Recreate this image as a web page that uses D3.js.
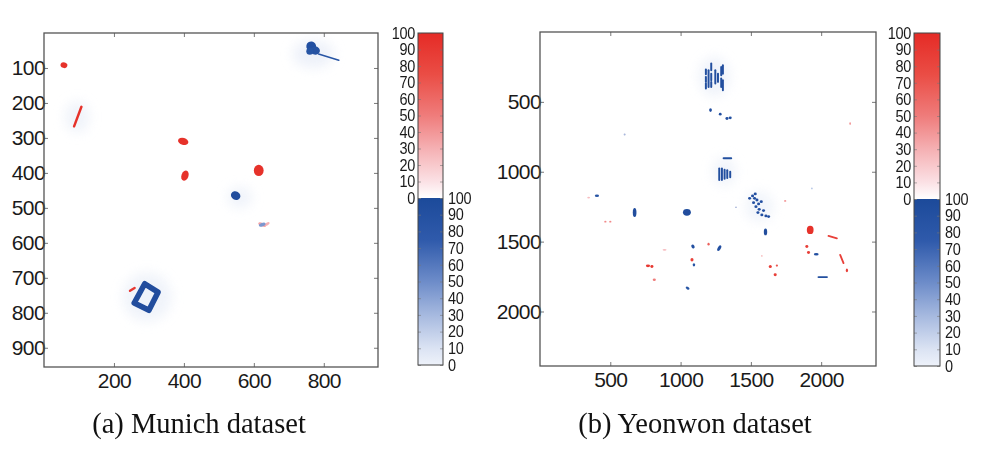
<!DOCTYPE html>
<html><head><meta charset="utf-8">
<script src="https://cdn.jsdelivr.net/npm/d3@7/dist/d3.min.js"></script>
<style>body{margin:0;background:#fff}svg{display:block}</style>
</head><body>
<svg id="chart" width="983" height="449"></svg>
<script>
// ---------------- DATA ----------------
const munichXTicks = [200, 400, 600, 800];
const munichYTicks = [100, 200, 300, 400, 500, 600, 700, 800, 900];
const yeonwonXTicks = [500, 1000, 1500, 2000];
const yeonwonYTicks = [500, 1000, 1500, 2000];
const colorbarTicks = [0, 10, 20, 30, 40, 50, 60, 70, 80, 90, 100];
const captions = ["(a) Munich dataset", "(b) Yeonwon dataset"];

// spots: [x, y, rx, ry, value, angle]  (data units)
const munichIncreaseSpots = [
  [57, 92, 10, 8, 95, 20], [398, 310, 15, 10, 95, 15], [403, 408, 10, 15, 95, 20],
  [614, 393, 14, 16, 95, 0], [624, 548, 12, 5, 35, 20], [638, 546, 8, 4, 30, -30]
];
// strokes: [x1, y1, x2, y2, thickness, value]
const munichIncreaseStrokes = [
  [107, 211, 86, 267, 7, 95], [246, 737, 259, 729, 7, 90]
];
const munichDecreaseHalos = [
  [770, 60, 60, 40, 6, 0], [560, 470, 35, 30, 5, 0], [295, 755, 70, 70, 4, 0], [95, 240, 35, 45, 4, 0]
];
const munichDecreaseSpots = [
  [548, 465, 14, 12, 95, 30], [764, 38, 14, 14, 90, 10], [775, 50, 14, 12, 88, 10], [760, 52, 10, 10, 85, 0],
  [624, 548, 10, 5, 45, -20]
];
const munichDecreaseStrokes = [
  [785, 60, 843, 78, 4, 85]
];
const munichDecreaseOutline = [[258, 772], [288, 717], [326, 741], [300, 793]];
const munichOutlineThickness = 16;
const munichOutlineValue = 95;

const yeonwonDecreaseHalos = [
  [1240, 320, 110, 140, 5, 0], [1310, 1000, 80, 100, 4, 0], [1560, 1250, 100, 110, 3, 0]
];
// vertical dashes / strokes: [x1, y1, x2, y2]
const yeonwonDecreaseStrokes = [
  [1180, 269, 1180, 302], [1180, 321, 1180, 357], [1180, 369, 1180, 405],
  [1199, 274, 1199, 393],
  [1218, 226, 1218, 274], [1218, 298, 1218, 345], [1218, 357, 1218, 393],
  [1247, 274, 1247, 369],
  [1266, 298, 1266, 357],
  [1289, 250, 1289, 309], [1289, 333, 1289, 393],
  [1301, 238, 1301, 298], [1301, 345, 1301, 417],
  [1306, 904, 1360, 904],
  [1275, 976, 1275, 1059], [1294, 976, 1294, 1059], [1313, 985, 1313, 1050],
  [1332, 990, 1332, 1045], [1353, 1000, 1353, 1040],
  [1981, 1754, 2041, 1754]
];
const yeonwonDecreaseSpots = [
  [1213, 559, 10, 13, 90, 0], [1282, 588, 10, 10, 90, 0], [1330, 619, 11, 10, 90, 0], [1353, 614, 11, 10, 90, 0],
  [405, 1171, 15, 9, 85, 0], [673, 1291, 13, 32, 95, 0], [1045, 1290, 28, 24, 95, 0],
  [1491, 1190, 11, 10, 90, 0], [1512, 1173, 11, 10, 90, 0], [1531, 1159, 11, 10, 90, 0],
  [1543, 1202, 11, 10, 90, 0], [1519, 1221, 11, 10, 90, 0], [1555, 1230, 11, 10, 90, 0],
  [1574, 1214, 11, 10, 90, 0], [1536, 1250, 11, 10, 90, 0], [1559, 1269, 11, 10, 90, 0],
  [1590, 1278, 11, 10, 90, 0], [1550, 1292, 11, 10, 90, 0], [1578, 1309, 11, 10, 90, 0],
  [1607, 1316, 11, 10, 90, 0], [1626, 1321, 11, 10, 90, 0], [1526, 1190, 11, 10, 90, 0],
  [1604, 1431, 12, 24, 95, 0], [1965, 1590, 17, 9, 90, 0],
  [1088, 1535, 11, 15, 90, -30], [1275, 1547, 11, 22, 90, 30], [1095, 1666, 9, 12, 85, 0],
  [1050, 1833, 15, 9, 85, 35],
  [602, 733, 7, 7, 30, 0], [1394, 1254, 6, 6, 30, 0], [1934, 1119, 6, 6, 25, 0]
];
const yeonwonIncreaseSpots = [
  [2206, 655, 6, 10, 40, 0], [346, 1185, 10, 6, 25, 0], [465, 1357, 8, 6, 45, 0], [500, 1357, 8, 6, 45, 0],
  [1744, 1209, 8, 6, 40, 0], [1922, 1416, 24, 30, 95, 0], [1898, 1535, 11, 10, 85, 0], [1910, 1578, 11, 10, 85, 0],
  [1638, 1678, 11, 11, 85, 0], [1673, 1737, 11, 10, 85, 0], [1685, 1671, 8, 8, 70, 0],
  [1081, 1630, 11, 13, 85, 0], [1199, 1518, 8, 9, 65, 0],
  [768, 1673, 15, 10, 90, 0], [796, 1678, 11, 10, 90, 0], [813, 1773, 11, 9, 50, 0],
  [886, 1559, 14, 6, 25, 0], [1578, 1602, 6, 5, 35, 0], [2183, 1706, 8, 13, 85, 0],
  [602, 733, 5, 5, 25, 0], [1394, 1254, 4, 4, 25, 0]
];
const yeonwonIncreaseStrokes = [
  [2052, 1459, 2112, 1476, 13, 85], [2135, 1595, 2159, 1654, 13, 85]
];
const yeonwonStrokeThickness = 14;
const yeonwonStrokeValue = 92;

// ---------------- STYLE ----------------
const redStops = [[0, "#ffffff"], [10, "#fbe1e5"], [30, "#f5b0b3"], [50, "#ef7c7b"], [75, "#ea4d45"], [100, "#e52b26"]];
const blueStops = [[0, "#eef2fa"], [10, "#dbe3f3"], [30, "#a6b9df"], [50, "#6d8cc9"], [75, "#2f5aab"], [100, "#1c4a9a"]];
const redColor = d3.scaleLinear().domain(redStops.map(d => d[0])).range(redStops.map(d => d[1]));
const blueColor = d3.scaleLinear().domain(blueStops.map(d => d[0])).range(blueStops.map(d => d[1]));
const axisFont = "'Liberation Sans', Arial, sans-serif";

const svg = d3.select("#chart");
const defs = svg.append("defs");
defs.append("filter").attr("id", "soft").attr("x", "-50%").attr("y", "-50%").attr("width", "200%").attr("height", "200%")
  .append("feGaussianBlur").attr("stdDeviation", 0.45);
defs.append("filter").attr("id", "halo").attr("x", "-50%").attr("y", "-50%").attr("width", "200%").attr("height", "200%")
  .append("feGaussianBlur").attr("stdDeviation", 6);

function drawPanel(p) {
  const x = d3.scaleLinear().domain(p.domain).range([p.left, p.right]);
  const y = d3.scaleLinear().domain(p.domain).range([p.top, p.bottom]);
  const k = (p.right - p.left) / (p.domain[1] - p.domain[0]);
  const g = svg.append("g");
  const clipId = "clip" + p.id;
  defs.append("clipPath").attr("id", clipId).append("rect")
    .attr("x", p.left).attr("y", p.top).attr("width", p.right - p.left).attr("height", p.bottom - p.top);
  const content = g.append("g").attr("clip-path", `url(#${clipId})`);

  const halo = content.append("g").attr("filter", "url(#halo)").attr("opacity", 0.6);
  halo.selectAll("ellipse").data(p.halos).join("ellipse")
    .attr("cx", d => x(d[0])).attr("cy", d => y(d[1]))
    .attr("rx", d => d[2] * k).attr("ry", d => d[3] * k)
    .attr("fill", d => blueColor(d[4]));

  const marks = content.append("g").attr("filter", "url(#soft)");
  function spots(data, color) {
    marks.append("g").selectAll("ellipse").data(data).join("ellipse")
      .attr("transform", d => `translate(${x(d[0])},${y(d[1])}) rotate(${d[5] || 0})`)
      .attr("rx", d => d[2] * k).attr("ry", d => d[3] * k)
      .attr("fill", d => color(d[4]));
  }
  function strokes(data, color, thick, val) {
    marks.append("g").selectAll("line").data(data).join("line")
      .attr("x1", d => x(d[0])).attr("y1", d => y(d[1]))
      .attr("x2", d => x(d[2])).attr("y2", d => y(d[3]))
      .attr("stroke", d => color(d[5] !== undefined ? d[5] : val))
      .attr("stroke-width", d => (d[4] !== undefined ? d[4] : thick) * k)
      .attr("stroke-linecap", "round");
  }
  spots(p.incSpots, redColor);
  strokes(p.incStrokes, redColor, p.thick, p.val);
  spots(p.decSpots, blueColor);
  strokes(p.decStrokes, blueColor, p.thick, p.val);
  if (p.outline) {
    marks.append("path").datum(p.outline)
      .attr("d", d3.line().x(d => x(d[0])).y(d => y(d[1])).curve(d3.curveLinearClosed))
      .attr("fill", "none").attr("stroke", blueColor(p.outlineValue))
      .attr("stroke-width", p.outlineThickness * k).attr("stroke-linejoin", "round");
  }

  // axes
  const ax = g.append("g").attr("font-family", axisFont);
  const styleAxis = sel => {
    sel.select(".domain").remove();
    sel.selectAll(".tick line").attr("stroke", "#555").attr("stroke-width", 0.8);
    sel.selectAll("text").attr("font-size", 21).attr("fill", "#1a1a1a").attr("font-family", axisFont).attr("letter-spacing", -0.6);
  };
  const fmt = d3.format("d");
  ax.append("g").attr("transform", `translate(${p.left},0)`)
    .call(d3.axisLeft(y).tickValues(p.yTicks).tickFormat(fmt).tickSizeInner(-4).tickSizeOuter(0).tickPadding(-1)).call(styleAxis);
  ax.append("g").attr("transform", `translate(0,${p.bottom})`)
    .call(d3.axisBottom(x).tickValues(p.xTicks).tickFormat(fmt).tickSizeInner(-4).tickSizeOuter(0).tickPadding(6)).call(styleAxis);
  ax.append("g").attr("transform", `translate(0,${p.top})`)
    .call(d3.axisTop(x).tickValues(p.xTicks).tickSizeInner(-4).tickSizeOuter(0).tickFormat("")).call(styleAxis);
  ax.append("g").attr("transform", `translate(${p.right},0)`)
    .call(d3.axisRight(y).tickValues(p.yTicks).tickSizeInner(-4).tickSizeOuter(0).tickFormat("")).call(styleAxis);
  g.append("rect").attr("x", p.left).attr("y", p.top).attr("width", p.right - p.left).attr("height", p.bottom - p.top)
    .attr("fill", "none").attr("stroke", "#555").attr("stroke-width", 1.3);

  // colorbar
  const cb = p.cb;
  const rs = d3.scaleLinear().domain([0, 100]).range([cb.mid, cb.top]);
  const bs = d3.scaleLinear().domain([0, 100]).range([cb.bottom, cb.mid]);
  const gid = "grad" + p.id;
  const gr = defs.append("linearGradient").attr("id", gid + "r").attr("x1", 0).attr("y1", 1).attr("x2", 0).attr("y2", 0);
  gr.selectAll("stop").data(redStops).join("stop").attr("offset", d => d[0] + "%").attr("stop-color", d => d[1]);
  const gb = defs.append("linearGradient").attr("id", gid + "b").attr("x1", 0).attr("y1", 1).attr("x2", 0).attr("y2", 0);
  gb.selectAll("stop").data(blueStops).join("stop").attr("offset", d => d[0] + "%").attr("stop-color", d => d[1]);
  const w = cb.right - cb.left;
  g.append("rect").attr("x", cb.left).attr("y", rs(100)).attr("width", w).attr("height", rs(0) - rs(100)).attr("fill", `url(#${gid}r)`);
  g.append("rect").attr("x", cb.left).attr("y", bs(100)).attr("width", w).attr("height", bs(0) - bs(100)).attr("fill", `url(#${gid}b)`);
  const cbStyle = sel => {
    sel.select(".domain").remove();
    sel.selectAll(".tick line").attr("stroke", "#777").attr("stroke-width", 0.6);
    sel.selectAll("text").attr("font-size", 14.5).attr("fill", "#1a1a1a").attr("font-family", axisFont)
      .attr("letter-spacing", -0.3).attr("transform", "scale(1,1.12)").attr("y", function () { return 0; });
  };
  // text scaled vertically around its own baseline: wrap via dy so center stays on tick
  g.append("g").attr("transform", `translate(${cb.left},0)`)
    .call(d3.axisLeft(rs).tickValues(colorbarTicks).tickSizeInner(-3).tickSizeOuter(0).tickPadding(3)).call(cbStyle);
  g.append("g").attr("transform", `translate(${cb.right},0)`)
    .call(d3.axisRight(rs).tickValues(colorbarTicks).tickSizeInner(-3).tickSizeOuter(0).tickFormat("")).call(cbStyle);
  g.append("g").attr("transform", `translate(${cb.right},0)`)
    .call(d3.axisRight(bs).tickValues(colorbarTicks).tickSizeInner(-3).tickSizeOuter(0).tickPadding(5)).call(cbStyle);
  g.append("g").attr("transform", `translate(${cb.left},0)`)
    .call(d3.axisLeft(bs).tickValues(colorbarTicks).tickSizeInner(-3).tickSizeOuter(0).tickFormat("")).call(cbStyle);
  g.append("rect").attr("x", cb.left).attr("y", cb.top).attr("width", w).attr("height", cb.bottom - cb.top)
    .attr("fill", "none").attr("stroke", "#444").attr("stroke-width", 1);

  // caption
  svg.append("text").attr("x", p.capX).attr("y", 433).attr("text-anchor", "middle")
    .attr("font-family", "'Liberation Serif', 'Times New Roman', serif").attr("font-size", 28.5).attr("fill", "#111")
    .text(p.caption);
}

drawPanel({
  id: "a", domain: [0, 955], left: 44, right: 378, top: 33, bottom: 367,
  xTicks: munichXTicks, yTicks: munichYTicks,
  halos: munichDecreaseHalos, incSpots: munichIncreaseSpots, incStrokes: munichIncreaseStrokes,
  decSpots: munichDecreaseSpots, decStrokes: munichDecreaseStrokes, thick: 6, val: 90,
  outline: munichDecreaseOutline, outlineThickness: munichOutlineThickness, outlineValue: munichOutlineValue,
  cb: { left: 418, right: 443, top: 33, mid: 198, bottom: 365 },
  caption: captions[0], capX: 199
});
drawPanel({
  id: "b", domain: [0, 2390], left: 540, right: 876, top: 32, bottom: 366,
  xTicks: yeonwonXTicks, yTicks: yeonwonYTicks,
  halos: yeonwonDecreaseHalos, incSpots: yeonwonIncreaseSpots, incStrokes: yeonwonIncreaseStrokes,
  decSpots: yeonwonDecreaseSpots, decStrokes: yeonwonDecreaseStrokes, thick: yeonwonStrokeThickness, val: yeonwonStrokeValue,
  outline: null,
  cb: { left: 914, right: 940, top: 33, mid: 199, bottom: 366 },
  caption: captions[1], capX: 695
});
</script>
</body></html>
